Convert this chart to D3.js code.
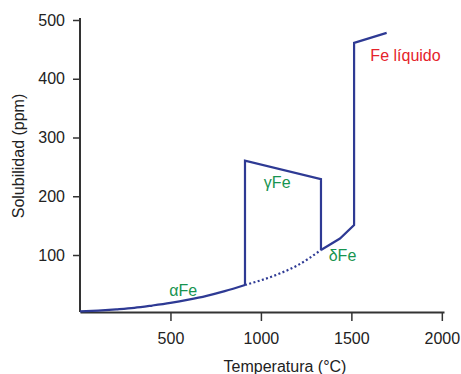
<!DOCTYPE html>
<html><head><meta charset="utf-8">
<script src="https://cdn.jsdelivr.net/npm/d3@7"></script>
<style>body{margin:0;background:#fff;} text{font-family:"Liberation Sans",Arial,sans-serif;}</style>
</head><body>
<svg id="c" width="461" height="374"></svg>
<script>
// Data
const alphaT = [0,100,200,300,400,500,600,700,800,912];
const alphaV = [4,5.5,7.5,10,14,18.5,24,30.5,38.5,49];
const dottedT = [912,1000,1100,1200,1332];
const dottedV = [49,57,68,82,108.5];
const gammaT = [912,912,1332,1332];
const gammaV = [49,260.5,229,108.5];
const deltaT = [1332,1437,1515,1515,1695];
const deltaV = [108.5,128,151,461,478];
const xTicks = [500,1000,1500,2000];
const yTicks = [100,200,300,400,500];
const labels = [
  {text:"αFe", T:570, v:30, color:"#179450", anchor:"middle"},
  {text:"γFe", T:1090, v:214, color:"#179450", anchor:"middle"},
  {text:"δFe", T:1451, v:89, color:"#179450", anchor:"middle"},
  {text:"Fe líquido", T:1605, v:430, color:"#e5232b", anchor:"start"}
];

const svg = d3.select("#c");
const x = d3.scaleLinear().domain([0,2012]).range([80,444]);
const y = d3.scaleLinear().domain([3,500]).range([312,20]);
const lineCol = "#2e3a94";
const axisCol = "#333";

const line = d3.line().x(d=>x(d[0])).y(d=>y(d[1]));
const curve = d3.line().x(d=>x(d[0])).y(d=>y(d[1])).curve(d3.curveMonotoneX);

// axes
const xa = svg.append("g").attr("transform","translate(0,312)")
  .call(d3.axisBottom(x).tickValues(xTicks).tickFormat(d3.format("d")).tickSize(9).tickPadding(11.5).tickSizeOuter(0));
const ya = svg.append("g").attr("transform","translate(80,0)")
  .call(d3.axisLeft(y).tickValues(yTicks).tickFormat(d3.format("d")).tickSize(7).tickPadding(8).tickSizeOuter(0));
[xa,ya].forEach(g=>{
  g.select(".domain").attr("stroke",axisCol).attr("stroke-width",2);
  g.selectAll(".tick line").attr("stroke",axisCol).attr("stroke-width",1.5);
  g.selectAll(".tick text").attr("fill","#222").attr("font-size",16).attr("font-family","Liberation Sans, Arial, sans-serif");
});
ya.select(".domain").attr("d","M0,312V18");

svg.append("text").attr("x",285).attr("y",372).attr("text-anchor","middle")
  .attr("font-size",16).attr("fill","#222").text("Temperatura (°C)");
svg.append("text").attr("transform","translate(24,156) rotate(-90)").attr("text-anchor","middle")
  .attr("font-size",16).attr("fill","#222").text("Solubilidad (ppm)");

// lines
svg.append("path").datum(alphaT.map((t,i)=>[t,alphaV[i]])).attr("d",curve)
  .attr("fill","none").attr("stroke",lineCol).attr("stroke-width",2.2);
svg.append("path").datum(dottedT.map((t,i)=>[t,dottedV[i]])).attr("d",curve)
  .attr("fill","none").attr("stroke",lineCol).attr("stroke-width",2.2).attr("stroke-dasharray","2,2.4");
svg.append("path").datum(gammaT.map((t,i)=>[t,gammaV[i]])).attr("d",line)
  .attr("fill","none").attr("stroke",lineCol).attr("stroke-width",2.2).attr("stroke-linejoin","miter");
svg.append("path").datum(deltaT.map((t,i)=>[t,deltaV[i]])).attr("d",line)
  .attr("fill","none").attr("stroke",lineCol).attr("stroke-width",2.2).attr("stroke-linejoin","miter");

svg.selectAll(".lbl").data(labels).enter().append("text")
  .attr("x",d=>x(d.T)).attr("y",d=>y(d.v)).attr("text-anchor",d=>d.anchor)
  .attr("font-size",16).attr("fill",d=>d.color).text(d=>d.text);
</script>
</body></html>
